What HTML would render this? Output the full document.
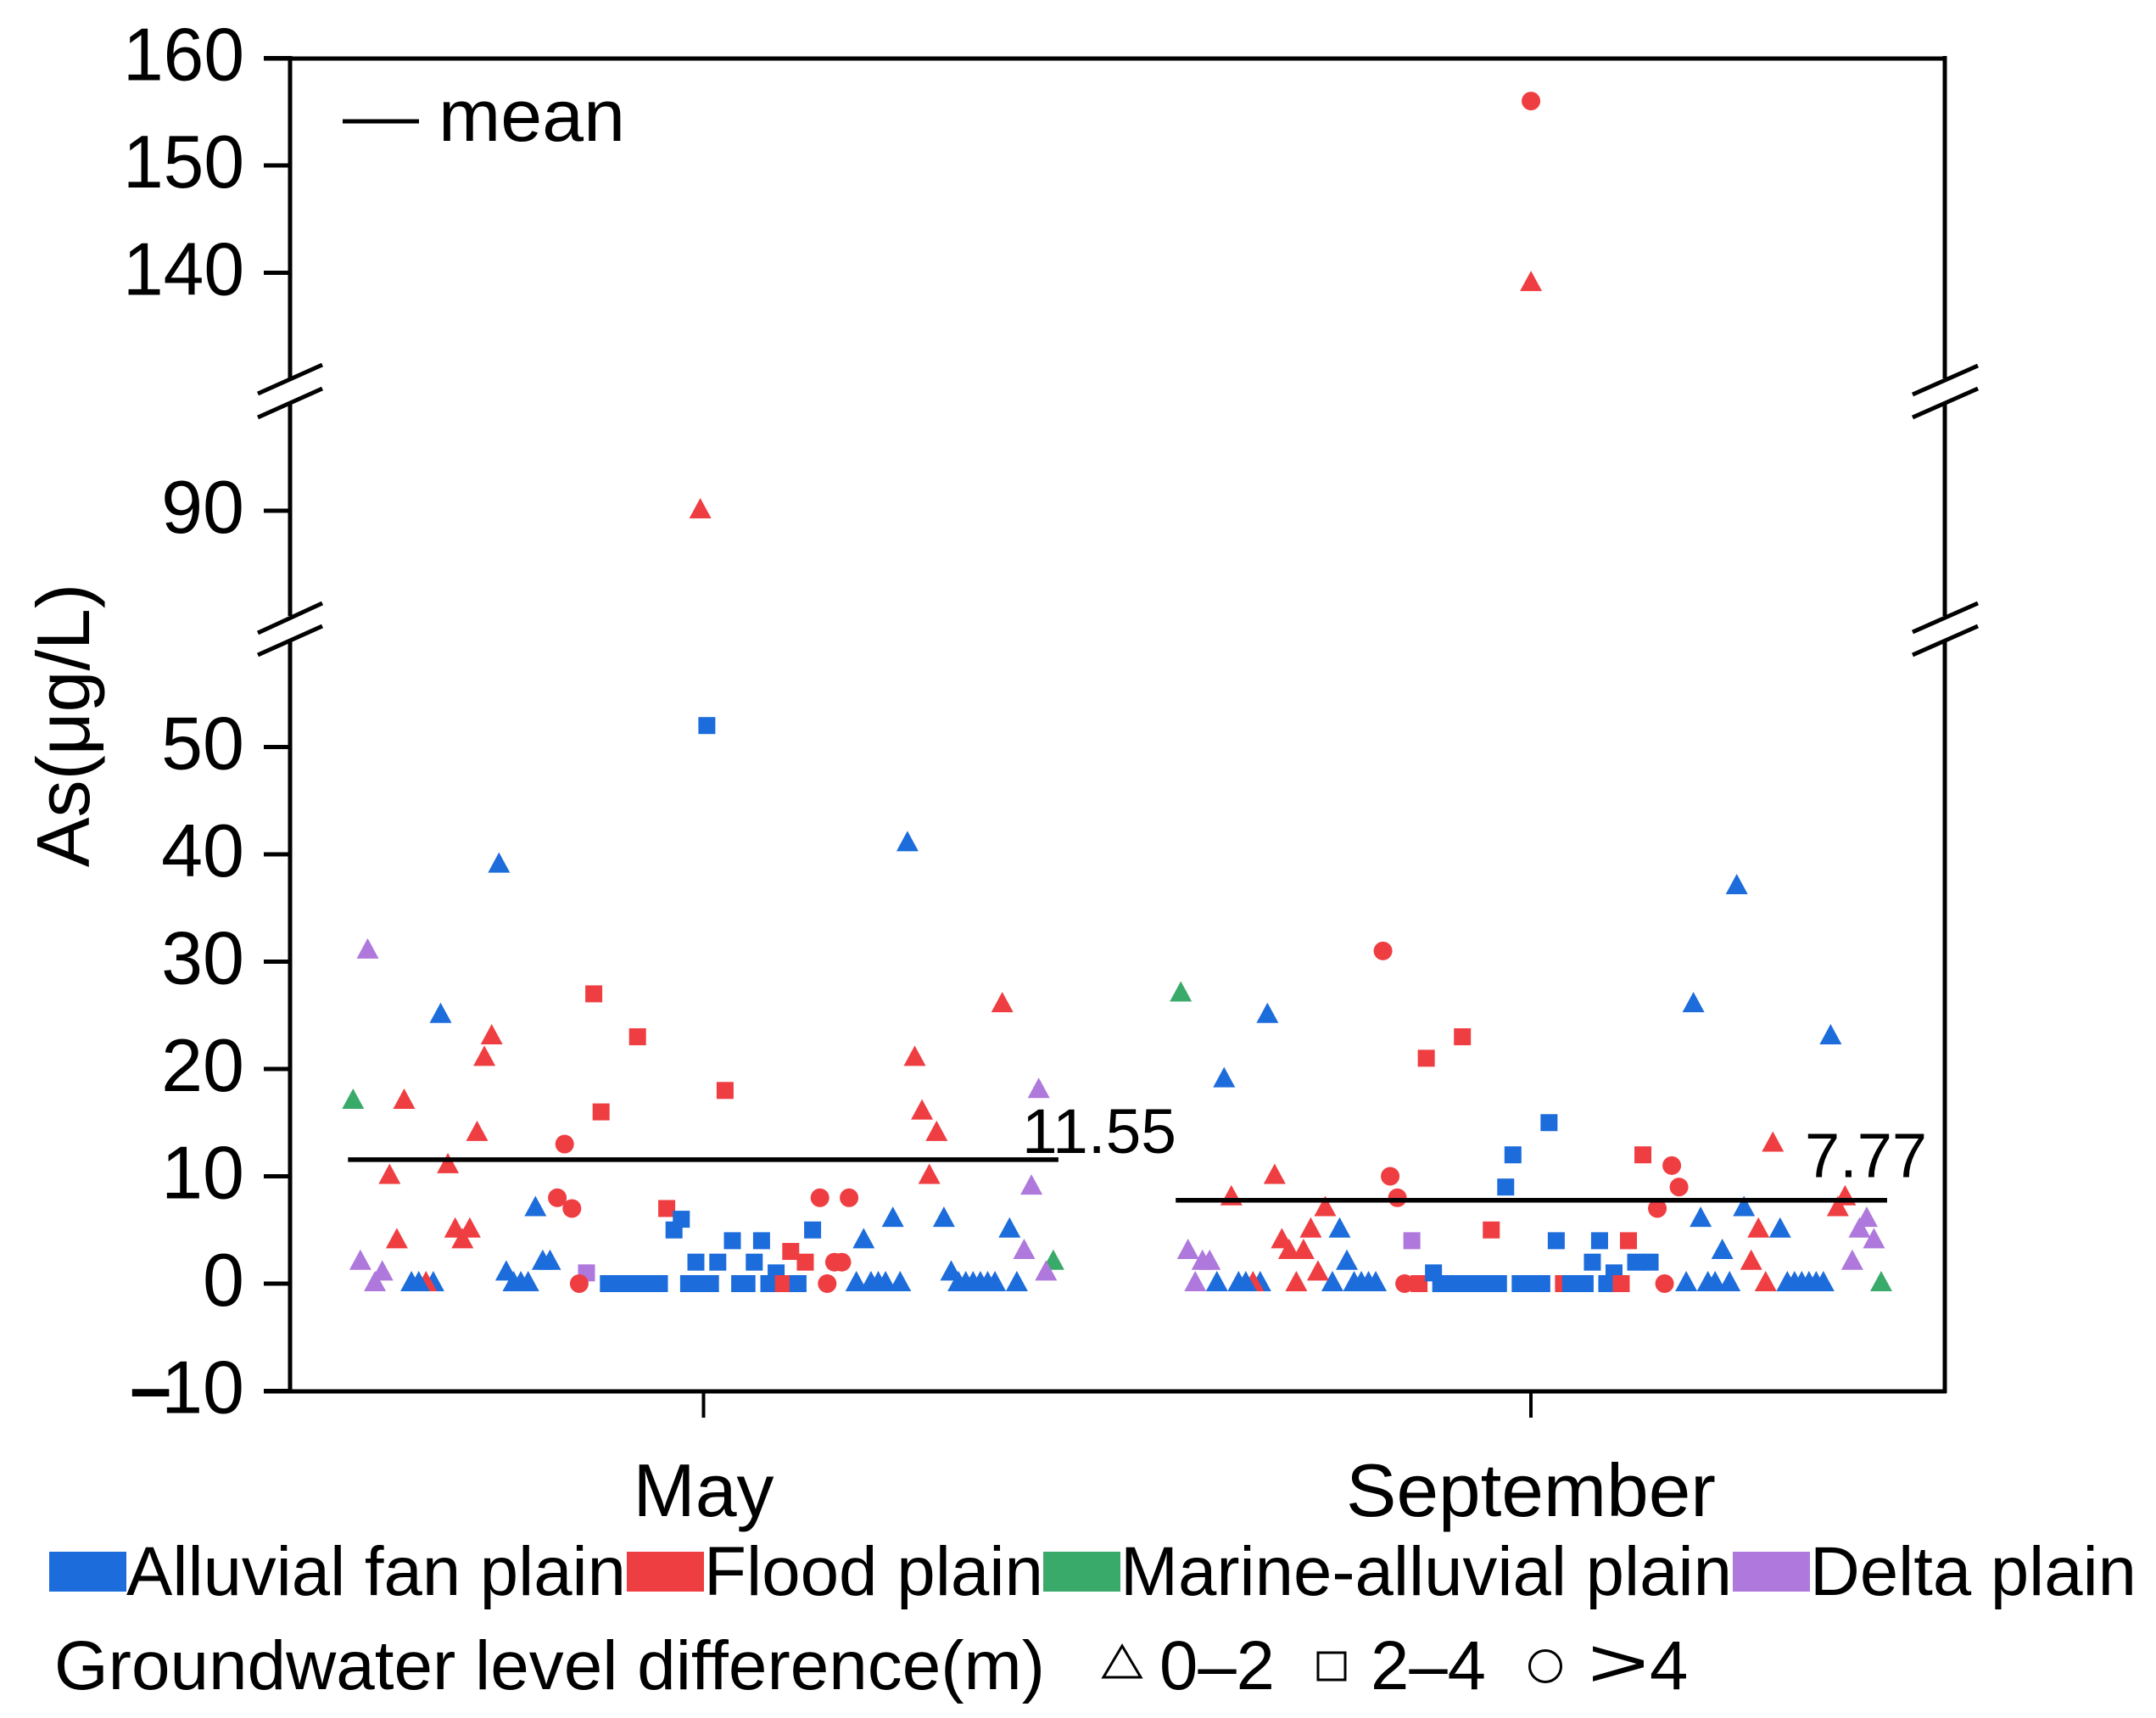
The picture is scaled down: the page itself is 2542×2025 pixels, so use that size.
<!DOCTYPE html>
<html lang="en">
<head>
<meta charset="utf-8">
<title>As concentration scatter chart</title>
<style>
html,body{margin:0;padding:0;background:#fff;}
svg{display:block;}
text{font-family:"Liberation Sans",Arial,sans-serif;fill:#000;}
</style>
</head>
<body>
<svg id="chart" xmlns="http://www.w3.org/2000/svg" width="2542" height="2025" viewBox="0 0 2542 2025">
  <rect x="0" y="0" width="2542" height="2025" fill="#fff"/>
  <g id="frame" fill="none" stroke="#000" stroke-width="5">
    <line x1="311" y1="69" x2="2295" y2="69"/>
    <line x1="311" y1="1640" x2="2295" y2="1640"/>
    <path d="M342 66V446M342 474V726M342 754V1642"/>
    <path d="M2293 66V446M2293 474V726M2293 754V1642"/>
    <path d="M304 464L380 430M304 492L380 458"/>
    <path d="M304 746L380 711M304 772L380 738"/>
    <path d="M2255 465L2332 431M2255 492L2332 458"/>
    <path d="M2255 745L2332 711M2255 772L2332 738"/>
  </g>
  <g id="y-ticks"></g>
  <g id="x-ticks"></g>
  <g id="markers"></g>
  <g id="means"></g>

  <text transform="translate(105 855) rotate(-90)" text-anchor="middle" font-size="88">As(μg/L)</text>

  <line x1="404" y1="143" x2="494" y2="143" stroke="#000" stroke-width="5"/>
  <text x="517" y="166" font-size="86" textLength="220" lengthAdjust="spacingAndGlyphs">mean</text>

  <g>
    <rect x="58" y="1829" width="91" height="47" fill="#1c6cdc"/>
    <text x="149" y="1880" font-size="81.5" textLength="589" lengthAdjust="spacingAndGlyphs">Alluvial fan plain</text>
    <rect x="739" y="1829" width="91" height="47" fill="#ef3e42"/>
    <text x="830" y="1880" font-size="81.5" textLength="400" lengthAdjust="spacingAndGlyphs">Flood plain</text>
    <rect x="1230" y="1829" width="91" height="47" fill="#3aaa6b"/>
    <text x="1321" y="1880" font-size="81.5" textLength="721" lengthAdjust="spacingAndGlyphs">Marine-alluvial plain</text>
    <rect x="2043" y="1829" width="91" height="47" fill="#ae78dc"/>
    <text x="2134" y="1880" font-size="81.5" textLength="385" lengthAdjust="spacingAndGlyphs">Delta plain</text>
  </g>

  <g>
    <text x="64" y="1991" font-size="81.5" textLength="1168" lengthAdjust="spacingAndGlyphs">Groundwater level difference(m)</text>
    <path d="M1323 1940L1345 1977H1301Z" fill="#fff" stroke="#000" stroke-width="3"/>
    <text x="1367" y="1991" font-size="81.5" textLength="136" lengthAdjust="spacingAndGlyphs">0–2</text>
    <rect x="1554" y="1948" width="32" height="32" fill="#fff" stroke="#000" stroke-width="3"/>
    <text x="1616" y="1991" font-size="81.5" textLength="136" lengthAdjust="spacingAndGlyphs">2–4</text>
    <circle cx="1822" cy="1964" r="18.5" fill="#fff" stroke="#000" stroke-width="3"/>
    <text x="1872" y="1988" font-size="81.5" textLength="72" lengthAdjust="spacingAndGlyphs">&gt;</text>
    <text x="1945" y="1991" font-size="81.5">4</text>
  </g>
</svg>
<script>
const yTickValues = [160, 150, 140, 90, 50, 40, 30, 20, 10, 0, -10];
const yTickLabels = ['160', '150', '140', '90', '50', '40', '30', '20', '10', '0', '–10'];
const monthCategories = ['May', 'September'];

const mayIndex = [0,1,2,3,4,5,6,7,8,9,10,11,12,13,14,15,16,17,18,19,20,21,22,23,24,25,26,27,28,29,30,31,32,33,34,35,36,37,38,39,40,41,42,43,44,45,46,47,48,49,50,51,52,53,54,55,56,57,58,59,60,61,62,63,64,65,66,67,68,69,70,71,72,73,74,75,76,77,78,79,80,81,82,83,84,85,86,87,88,89,90,91,92,93,94,95,96,47,47.6,48.5];
const mayValues = [17,2,31,0,1,10,4,17,0,0,
  0,0,25,11,5,4,5,14,21,23,
  39,1,0,0,0,7,2,2,8,13,
  7,0,1,27,16,0,0,0,0,23,
  0,0,0,7,5,6,0,0,0,0,
  2,18,4,0,0,2,4,0,1,0,
  3,0,2,5,8,0,2,2,8,0,
  4,0,0,0,6,0,41,21,16,10,
  14,6,1,0,0,0,0,0,0,26,
  5,0,3,9,18,1,2,
  2,90,52];
const mayRegion = ('gpppprrrbb'+'rbbrrrrrrr'+'bbbbbbbbrr'+'rrprrbbbbr'+'bbbrbbbbbb'+'brbbbbbbbr'+'rbrbrrrrrb'+'bbbbbbbrrr'+'rbbbbbbbbr'+'bbppppg'+'brb').split('');
const mayLevel = ('tttttttttt'+'tttttttttt'+'ttttttttcc'+'ccssssssss'+'ssssssssss'+'ssssssssss'+'ssssccccct'+'tttttttttt'+'tttttttttt'+'ttttttt'+'sts').split('');
const mayMean = 11.55;

const sepIndex = [0,1,2,3,4,5,6,7,8,9,10,11,12,13,14,15,16,17,18,19,20,21,22,23,24,25,26,27,28,29,30,31,32,33,34,35,36,37,38,39,40,41,42,43,44,45,46,47,48,49,50,51,52,53,54,55,56,57,58,59,60,61,62,63,64,65,66,67,68,69,70,71,72,73,74,75,76,77,78,79,80,81,82,83,84,85,86,87,88,89,90,91,92,93,94,95,96,97,48.5,48.5];
const sepValues = [27,3,0,2,2,0,19,8,0,0,
  0,0,25,10,4,3,0,3,5,1,
  7,0,5,2,0,0,0,0,31,10,
  8,0,4,0,21,1,0,0,0,23,
  0,0,0,5,0,9,12,0,0,0,
  0,15,4,0,0,0,0,2,4,0,
  1,0,4,2,12,2,7,0,11,9,
  0,26,6,0,0,3,0,37,7,2,
  5,0,13,5,0,0,0,0,0,0,
  23,7,8,2,5,6,4,0,
  139,156];
const sepRegion = ('gppppbbrbb'+'rbbrrrrrrr'+'rbbbbbbbrr'+'rrprrbbbbr'+'bbbrbbbbbb'+'bbbrbbbbbb'+'brrbrbrrrr'+'bbbbbbbbbr'+'rrrbbbbbbb'+'brrppppg'+'rr').split('');
const sepLevel = ('tttttttttt'+'tttttttttt'+'ttttttttcc'+'ccssssssss'+'ssssssssss'+'ssssssssss'+'sssssscccc'+'tttttttttt'+'tttttttttt'+'tttttttt'+'tc').split('');
const mayMeanLabelWidth = 182;
const sepMean = 7.77;

const regionColors = {b:'#1c6cdc', r:'#ef3e42', g:'#3aaa6b', p:'#ae78dc'};
const regionNames = {b:'alluvial-fan', r:'flood', g:'marine-alluvial', p:'delta'};
const levelNames = {t:'triangle', s:'square', c:'circle'};

const NS = 'http://www.w3.org/2000/svg';

function yScale(v) {
  if (v <= 60) return 1513 - 12.65 * v;
  if (v <= 100) return 602 - 12.65 * (v - 90);
  return 68.5 + 12.65 * (160 - v);
}
function xMay(i) { return 416.3 + 8.6 * i; }
function xSep(i) { return 1392.2 + 8.513 * i; }
const xCategory = {May: 829.5, September: 1805};
const xCategoryLabelWidth = {May: 166, September: 436};

function make(tag, parent) {
  const el = document.createElementNS(NS, tag);
  parent.appendChild(el);
  return el;
}

const yTicksGroup = document.getElementById('y-ticks');
yTickValues.forEach(function (v, k) {
  const y = yScale(v);
  const tick = make('line', yTicksGroup);
  
  
  tick.setAttribute('x1', 311);
  tick.setAttribute('x2', 342);
  tick.setAttribute('y1', y);
  tick.setAttribute('y2', y);
  tick.setAttribute('stroke', '#000');
  tick.setAttribute('stroke-width', 5);
  const label = make('text', yTicksGroup);
  
  
  label.setAttribute('x', 288);
  label.setAttribute('y', y + 26);
  label.setAttribute('text-anchor', 'end');
  label.setAttribute('font-size', 88);
  const text = yTickLabels[k];
  if (text.charAt(0) === '–') {
    const dash = make('tspan', label);
    dash.setAttribute('letter-spacing', '-12');
    dash.setAttribute('font-weight', 'bold');
    dash.textContent = '–';
    const digits = make('tspan', label);
    digits.textContent = text.slice(1);
  } else {
    label.textContent = text;
    if (text.length === 3) {
      label.setAttribute('textLength', 143);
      label.setAttribute('lengthAdjust', 'spacingAndGlyphs');
    }
  }
});

const xTicksGroup = document.getElementById('x-ticks');
monthCategories.forEach(function (name) {
  const x = xCategory[name];
  const tick = make('line', xTicksGroup);
  
  
  tick.setAttribute('x1', x);
  tick.setAttribute('x2', x);
  tick.setAttribute('y1', 1640);
  tick.setAttribute('y2', 1671);
  tick.setAttribute('stroke', '#000');
  tick.setAttribute('stroke-width', 4);
  const label = make('text', xTicksGroup);
  
  
  label.setAttribute('x', x);
  label.setAttribute('y', 1787);
  label.setAttribute('text-anchor', 'middle');
  label.setAttribute('font-size', 88);
  label.setAttribute('textLength', xCategoryLabelWidth[name]);
  label.setAttribute('lengthAdjust', 'spacingAndGlyphs');
  label.textContent = name;
});

const markersGroup = document.getElementById('markers');
function drawMarker(x, y, region, level) {
  let el;
  if (level === 't') {
    el = make('path', markersGroup);
    el.setAttribute('d', 'M' + x + ' ' + (y - 15) + 'L' + (x + 13) + ' ' + (y + 9) + 'H' + (x - 13) + 'Z');
  } else if (level === 's') {
    el = make('rect', markersGroup);
    el.setAttribute('x', x - 10);
    el.setAttribute('y', y - 10);
    el.setAttribute('width', 20);
    el.setAttribute('height', 20);
  } else {
    el = make('circle', markersGroup);
    el.setAttribute('cx', x);
    el.setAttribute('cy', y);
    el.setAttribute('r', 11);
  }
  el.setAttribute('fill', regionColors[region]);
  
  
}
function drawSeries(indexes, values, regions, levels, xFn) {
  const order = indexes.map(function (_, k) { return k; });
  for (let k = order.length - 1; k >= 0; k--) {
    if (levels[k] === 't') drawMarker(xFn(indexes[k]), yScale(values[k]), regions[k], 't');
  }
  order.forEach(function (k) {
    if (levels[k] === 's') drawMarker(xFn(indexes[k]), yScale(values[k]), regions[k], 's');
  });
  order.forEach(function (k) {
    if (levels[k] === 'c') drawMarker(xFn(indexes[k]), yScale(values[k]), regions[k], 'c');
  });
}
drawSeries(mayIndex, mayValues, mayRegion, mayLevel, xMay);
drawSeries(sepIndex, sepValues, sepRegion, sepLevel, xSep);

const meansGroup = document.getElementById('means');
function drawMean(value, x1, x2, labelX, labelOffset, name, labelWidth) {
  const y = yScale(value);
  const line = make('line', meansGroup);
  
  
  line.setAttribute('x1', x1);
  line.setAttribute('x2', x2);
  line.setAttribute('y1', y);
  line.setAttribute('y2', y);
  line.setAttribute('stroke', '#000');
  line.setAttribute('stroke-width', 5.5);
  const label = make('text', meansGroup);
  
  
  label.setAttribute('x', labelX);
  label.setAttribute('y', y + labelOffset);
  label.setAttribute('font-size', 74);
  label.setAttribute('textLength', labelWidth);
  label.setAttribute('lengthAdjust', 'spacingAndGlyphs');
  label.textContent = String(value);
}
drawMean(mayMean, xMay(0) - 6, xMay(96) + 6, 1205, -8, 'may', mayMeanLabelWidth);
drawMean(sepMean, xSep(0) - 6, xSep(97) + 7, 2128, -27, 'september', 144);
</script>
</body>
</html>
